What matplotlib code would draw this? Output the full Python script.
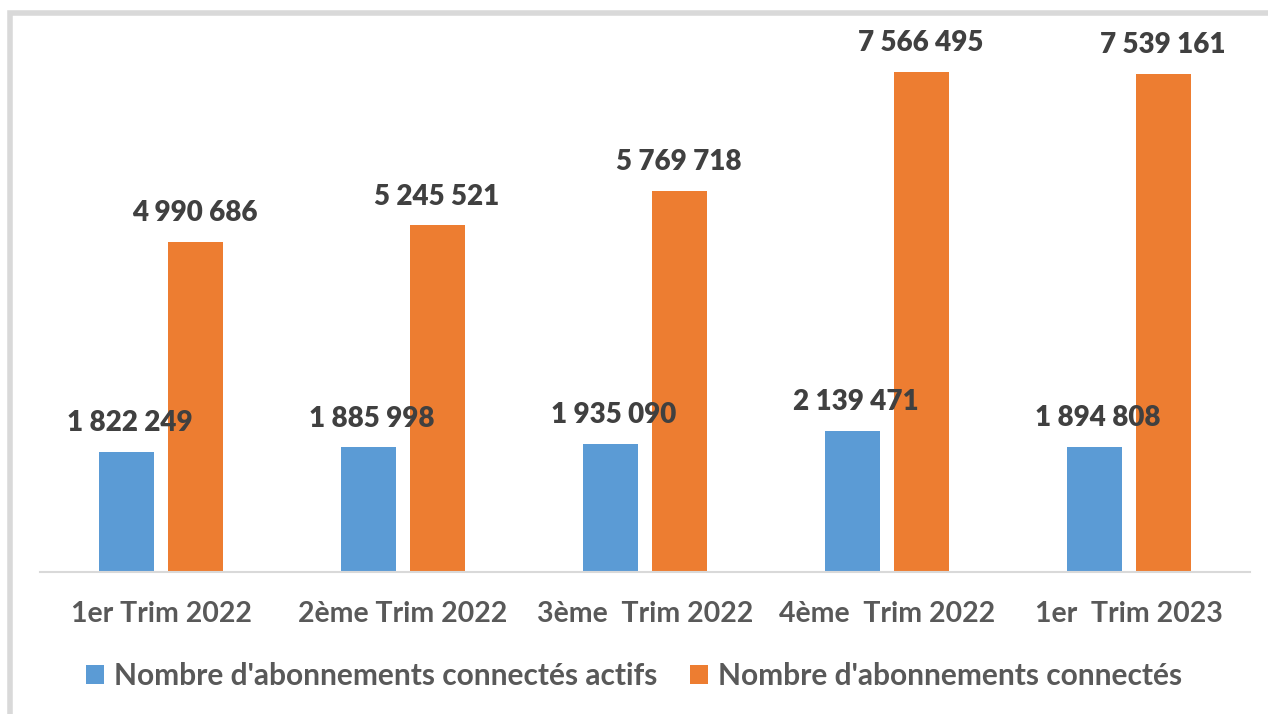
import matplotlib
matplotlib.use('Agg')
import matplotlib.pyplot as plt
import numpy as np
from matplotlib.patches import Rectangle

categories = ['1er Trim 2022', '2ème Trim 2022', '3ème  Trim 2022', '4ème  Trim 2022', '1er  Trim 2023']
actifs = [1822249, 1885998, 1935090, 2139471, 1894808]
connectes = [4990686, 5245521, 5769718, 7566495, 7539161]
series_names = ["Nombre d'abonnements connectés actifs", "Nombre d'abonnements connectés"]

BLUE = '#5b9bd5'
ORANGE = '#ed7d31'

plt.rcParams['font.family'] = ['Lato', 'DejaVu Sans']

def fmt(v):
    return f"{v:,}".replace(',', ' ')

W, H = 1268, 714
fig = plt.figure(figsize=(W / 100, H / 100), dpi=100)

# cadre gris (haut et gauche visibles)
fig.patches.append(Rectangle((10 / W, -0.1), 1.2, (H - 13) / H + 0.1, transform=fig.transFigure,
                             fill=False, edgecolor='#d9d9d9', linewidth=4))

ax = fig.add_axes([40 / W, (H - 572) / H, 1210 / W, 532 / H])
x = np.arange(len(categories))
w = 0.227
off = 0.141
b1 = ax.bar(x - off, actifs, w, color=BLUE, label=series_names[0])
b2 = ax.bar(x + off, connectes, w, color=ORANGE, label=series_names[1])

for xi, v in zip(x, actifs):
    ax.annotate(fmt(v), (xi - off, v), xytext=(2, 15), textcoords='offset points',
                ha='center', va='baseline', fontsize=20, fontweight='heavy', color='#404040')
for xi, v in zip(x, connectes):
    ax.annotate(fmt(v), (xi + off, v), xytext=(0, 15), textcoords='offset points',
                ha='center', va='baseline', fontsize=20, fontweight='heavy', color='#404040')

ax.set_xlim(-0.5, len(categories) - 0.5)
ax.set_ylim(0, 8050000)
ax.set_yticks([])
ax.set_xticks(x)
ax.set_xticklabels(categories, fontsize=20.5, fontweight='bold', color='#595959')
ax.tick_params(axis='x', length=0, pad=21)
for s in ['top', 'right', 'left']:
    ax.spines[s].set_visible(False)
ax.spines['bottom'].set_color('#d9d9d9')
ax.spines['bottom'].set_linewidth(1.5)

leg = fig.legend(handles=[b1, b2], loc='center', bbox_to_anchor=(0.5, (H - 676) / H), ncol=2,
                 frameon=False, prop={'size': 21.5, 'weight': 'bold'}, handlelength=0.6,
                 handleheight=0.6, handletextpad=0.34, columnspacing=1.1)
for t in leg.get_texts():
    t.set_color('#595959')

fig.savefig('out.png', dpi=100, facecolor='white')
